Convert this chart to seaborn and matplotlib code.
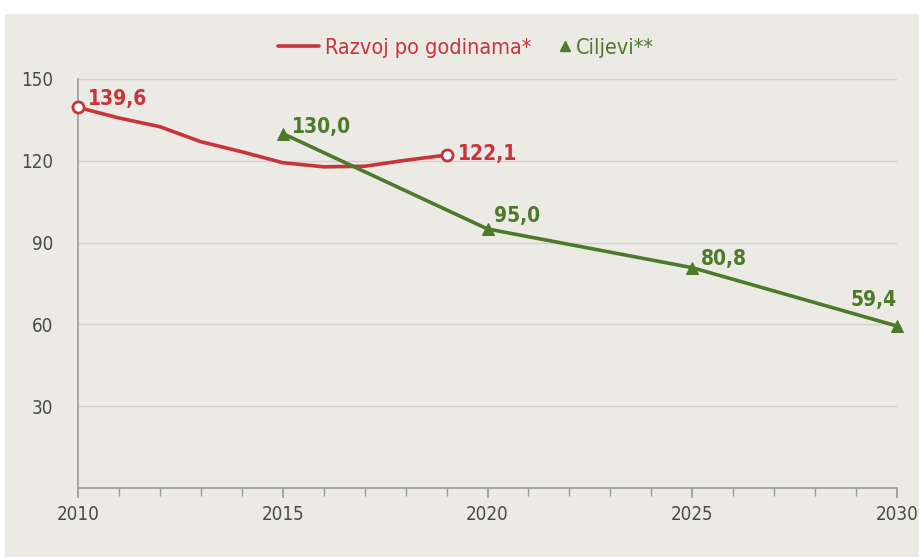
import seaborn as sns
import matplotlib.pyplot as plt
import pandas as pd
from matplotlib.lines import Line2D
from matplotlib.patches import Rectangle
from matplotlib.ticker import MultipleLocator

years_hist = [2010, 2011, 2012, 2013, 2014, 2015, 2016, 2017, 2018, 2019]
values_hist = [139.6, 135.7, 132.5, 127.0, 123.3, 119.3, 117.8, 118.0, 120.2, 122.1]
years_goal = [2015, 2020, 2025, 2030]
values_goal = [130.0, 95.0, 80.8, 59.4]
label_hist = 'Razvoj po godinama*'
label_goal = 'Ciljevi**'
y_ticks = [30, 60, 90, 120, 150]
x_ticks = [2010, 2015, 2020, 2025, 2030]

RED = '#C9343B'
GREEN = '#4D7A2A'
BG = '#EBEAE5'
GRID = '#D2D1CC'
AXC = '#9A9A98'
TXT = '#4A4A4A'

sns.set_theme(style='white')
plt.rcParams['font.family'] = ['DejaVu Sans']
plt.rcParams['font.stretch'] = 'condensed'

df_hist = pd.DataFrame({'year': years_hist, 'value': values_hist})
df_goal = pd.DataFrame({'year': years_goal, 'value': values_goal})

fig = plt.figure(figsize=(9.19, 5.57), dpi=100, facecolor='white')
fig.patches.append(Rectangle((5 / 919, 0), 1, 1 - 14 / 557, transform=fig.transFigure,
                             facecolor=BG, edgecolor='none', zorder=-10))
ax = fig.add_axes([78 / 919, (557 - 488) / 557, (897 - 78) / 919, (488 - 79) / 557])
ax.set_facecolor(BG)

sns.lineplot(data=df_hist, x='year', y='value', color=RED, linewidth=2.6, ax=ax, clip_on=False)
sns.lineplot(data=df_goal, x='year', y='value', color=GREEN, linewidth=2.6, ax=ax,
             marker='^', markersize=9, markeredgecolor=GREEN, clip_on=False)
# open circles at the ends of the historical line
ends = df_hist.iloc[[0, -1]]
ax.plot(ends['year'], ends['value'], 'o', markersize=8, markerfacecolor='white',
        markeredgecolor=RED, markeredgewidth=2, clip_on=False, zorder=5)

lab_font = dict(fontsize=15, fontweight='bold', va='center')
ax.annotate('139,6', (2010, values_hist[0]), xytext=(7, 6), textcoords='offset points',
            color=RED, ha='left', **lab_font)
ax.annotate('122,1', (2019, values_hist[-1]), xytext=(8, 1), textcoords='offset points',
            color=RED, ha='left', **lab_font)
goal_offsets = [(6.5, 5), (5, 9.5), (6, 6.5), (0, 19)]
for x, y, off in zip(years_goal, values_goal, goal_offsets):
    ax.annotate(f'{y:.1f}'.replace('.', ','), (x, y), xytext=off, textcoords='offset points',
                color=GREEN, ha='right' if x == 2030 else 'left', **lab_font)

ax.set_xlim(2010, 2030)
ax.set_ylim(0, 150)
ax.set_yticks(y_ticks)
ax.set_xticks(x_ticks)
ax.xaxis.set_minor_locator(MultipleLocator(1))
ax.yaxis.grid(True, color=GRID, linewidth=1)
ax.set_axisbelow(True)
for s in ['top', 'right']:
    ax.spines[s].set_visible(False)
for s in ['left', 'bottom']:
    ax.spines[s].set_color(AXC)
    ax.spines[s].set_linewidth(1.2)
ax.tick_params(axis='x', which='both', direction='out', bottom=True, color=AXC, length=7,
               labelsize=13.5, labelcolor=TXT, pad=5)
ax.tick_params(axis='x', which='minor', length=6)
ax.tick_params(axis='y', left=False, labelsize=13.5, labelcolor=TXT, pad=12)
ax.set_xlabel(None)
ax.set_ylabel(None)

leg1 = fig.legend([Line2D([], [], color=RED, linewidth=2.6)], [label_hist], loc='center',
                  bbox_to_anchor=(405 / 919, 1 - 48 / 557), frameon=False, fontsize=15.5,
                  handlelength=1.9, handletextpad=0.3)
leg1.get_texts()[0].set_color(RED)
leg2 = fig.legend([Line2D([], [], color=GREEN, linestyle='none', marker='^', markersize=7)], [label_goal],
                  loc='center', bbox_to_anchor=(606 / 919, 1 - 48 / 557), frameon=False, fontsize=15.5,
                  handlelength=0.6, handletextpad=0.2)
leg2.get_texts()[0].set_color(GREEN)

fig.savefig('out.png', dpi=100, facecolor='white')
